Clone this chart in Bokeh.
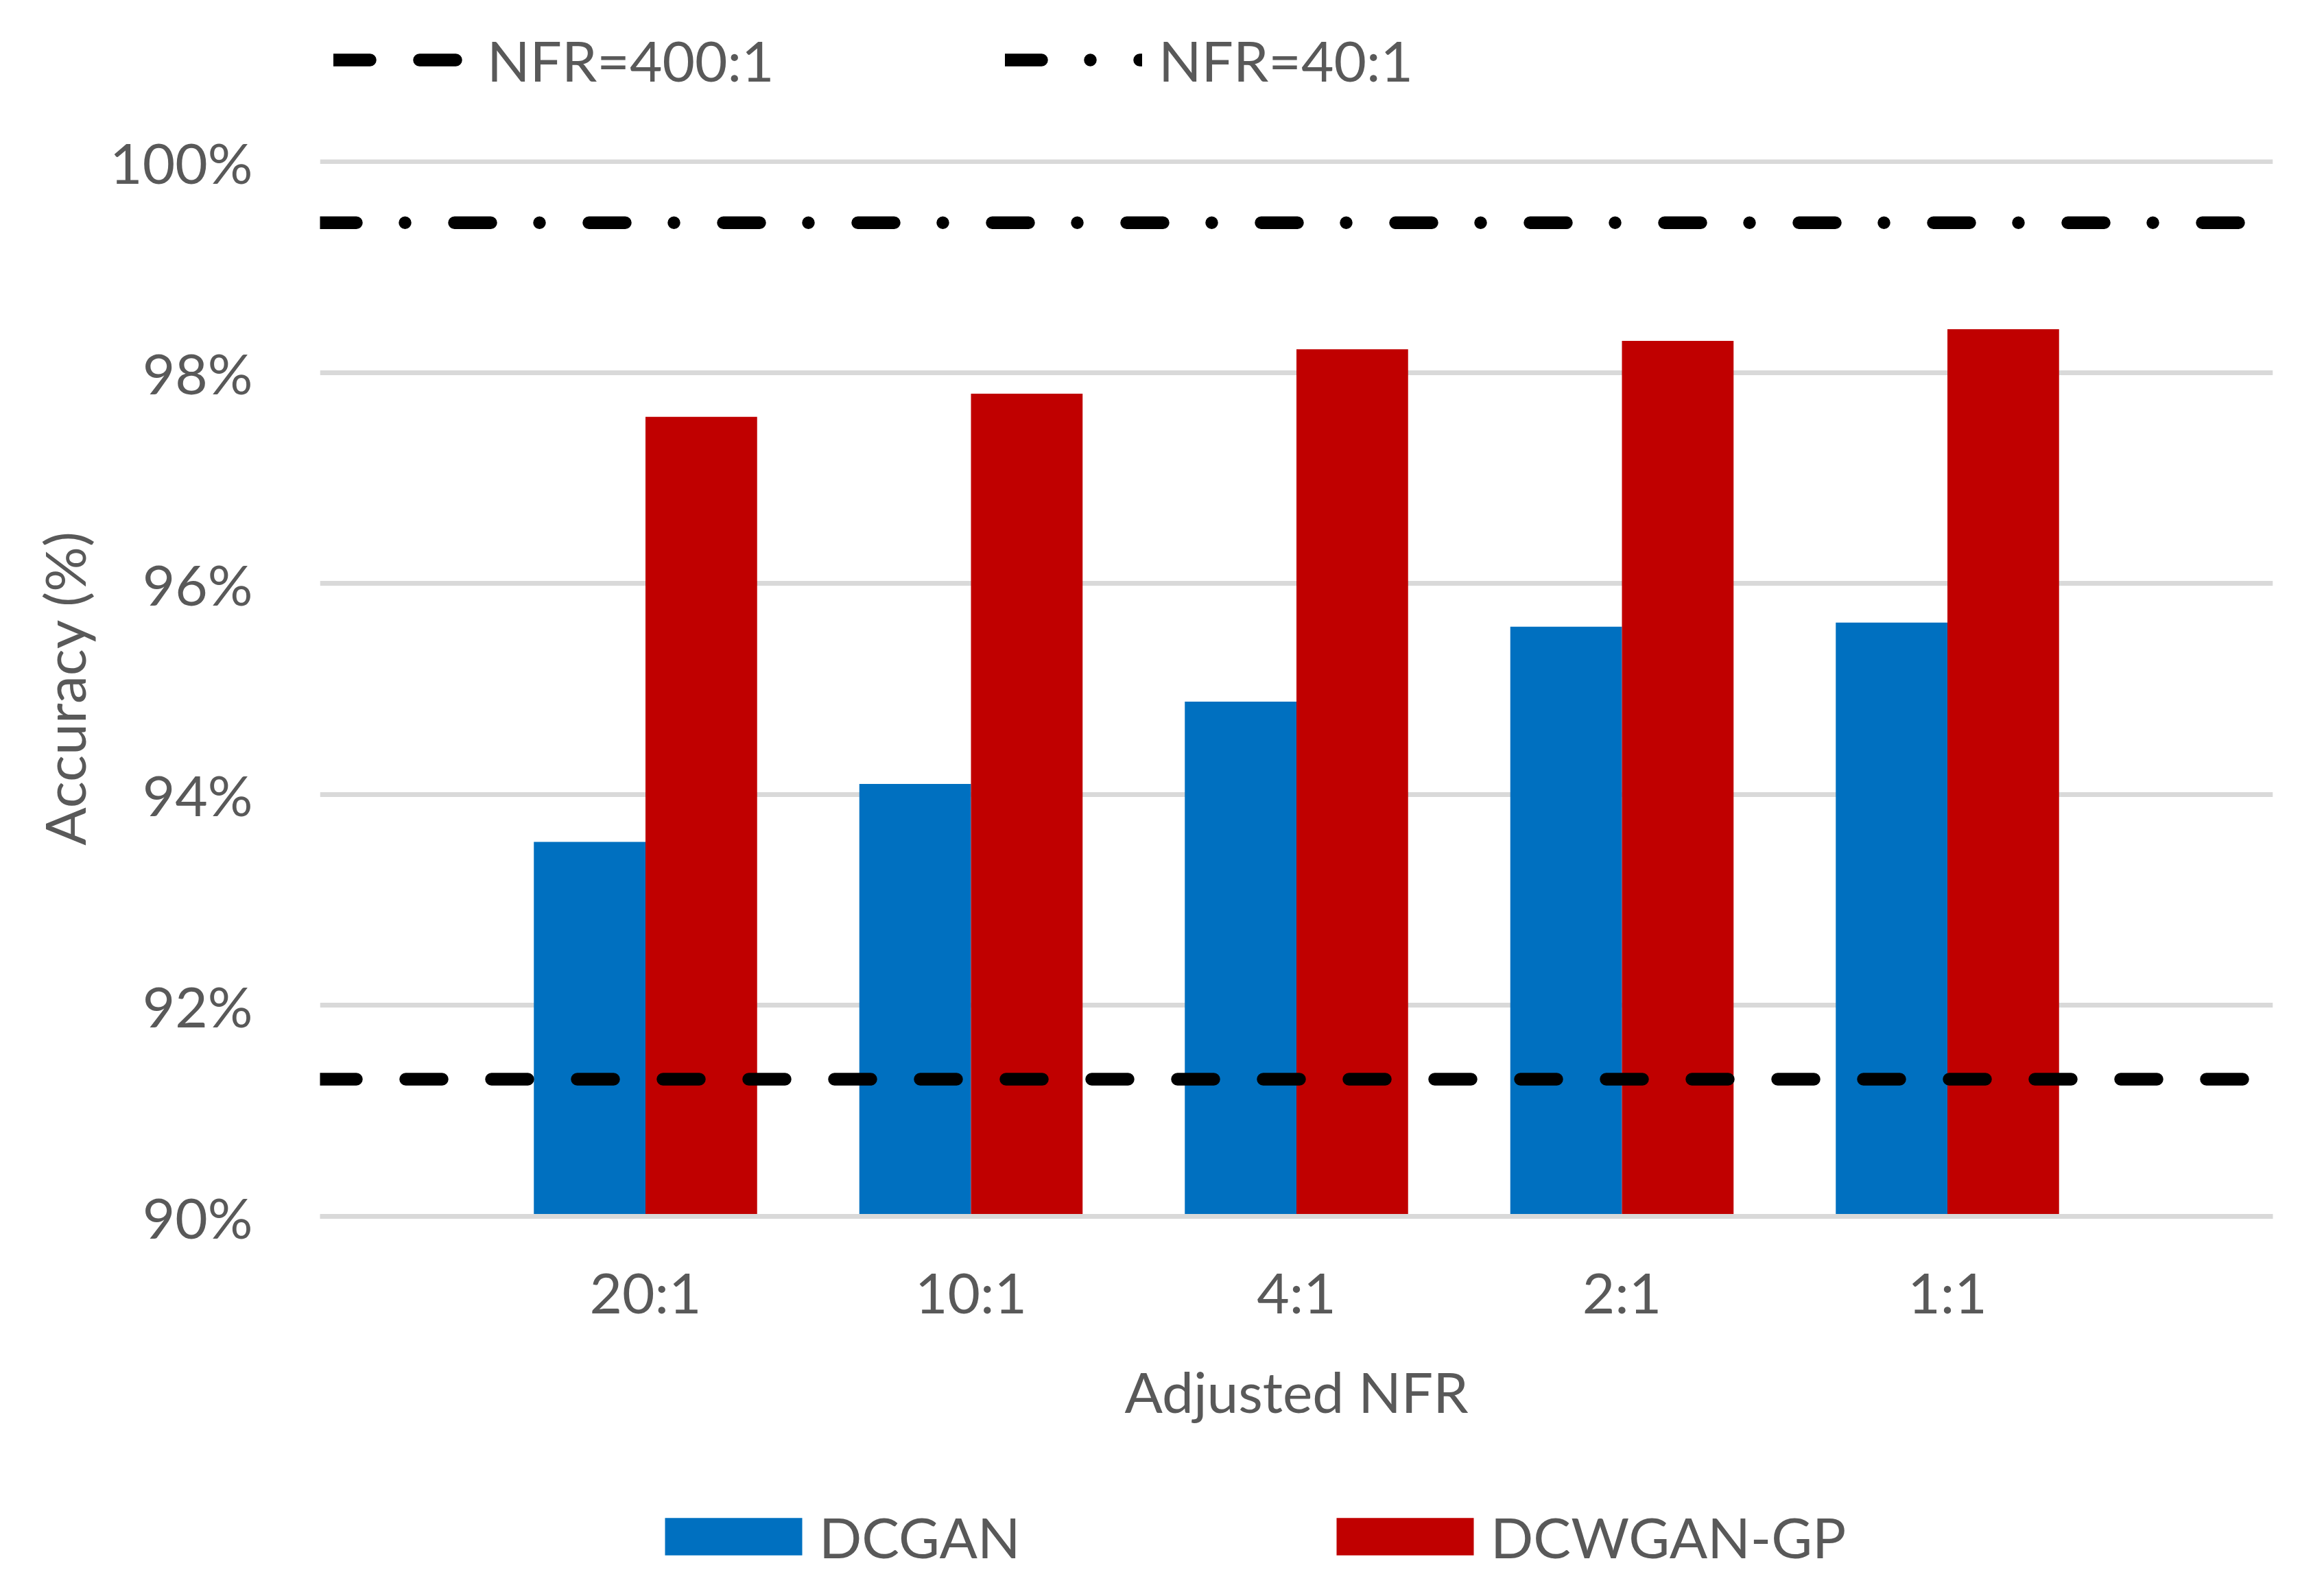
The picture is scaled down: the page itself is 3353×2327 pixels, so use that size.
from bokeh.plotting import figure
from bokeh.layouts import column
from bokeh.models import (ColumnDataSource, FactorRange, Range1d, Span, Legend,
                          LegendItem, FixedTicker, PrintfTickFormatter)
from bokeh.transform import dodge
from bokeh.embed import file_html
from bokeh.resources import INLINE

# values (accuracy in %)
ratios = ["20:1", "10:1", "4:1", "2:1", "1:1"]
dcgan = [93.55, 94.10, 94.88, 95.59, 95.63]
dcwgan_gp = [97.58, 97.80, 98.22, 98.30, 98.41]
nfr_400 = 91.30   # baseline at NFR=400:1
nfr_40 = 99.42    # baseline at NFR=40:1
y_ticks = [90, 92, 94, 96, 98, 100]

FONT = "Lato"
FS = "82px"
GREY = "#595959"
BLUE = "#0070C0"
RED = "#C00000"
W = 3337
LW = 18.5
dash400 = "53 72"
dash40 = "53 71 0 72"

src = ColumnDataSource(dict(ratio=ratios, dcgan=dcgan, dcwgan=dcwgan_gp,
                            nfr400=[nfr_400] * len(ratios), nfr40=[nfr_40] * len(ratios)))

p = figure(x_range=FactorRange(factors=ratios, range_padding=0.5, range_padding_units="absolute"),
           y_range=Range1d(90, 100.02),
           frame_width=2847, frame_height=1541,
           min_border_left=466, min_border_right=24, min_border_top=62, min_border_bottom=367,
           output_backend="svg", toolbar_location=None, outline_line_color=None)

bw = 0.343
p.vbar(x=dodge("ratio", -bw / 2, range=p.x_range), top="dcgan", bottom=90, width=bw,
       source=src, fill_color=BLUE, line_color=None)
p.vbar(x=dodge("ratio", bw / 2, range=p.x_range), top="dcwgan", bottom=90, width=bw,
       source=src, fill_color=RED, line_color=None)

# the two baselines run across the whole plot area
p.add_layout(Span(location=nfr_400, dimension="width", line_color="black", line_width=LW,
                  line_dash=dash400, line_cap="round"))
p.add_layout(Span(location=nfr_40, dimension="width", line_color="black", line_width=LW,
                  line_dash=dash40, line_cap="round"))

p.ygrid.ticker = FixedTicker(ticks=y_ticks)
p.ygrid.grid_line_color = "#D9D9D9"
p.ygrid.grid_line_width = 7
p.xgrid.grid_line_color = None

p.yaxis.ticker = FixedTicker(ticks=y_ticks)
p.yaxis.formatter = PrintfTickFormatter(format="%d%%")
p.yaxis.axis_label = "Accuracy (%)"
p.xaxis.axis_label = "Adjusted NFR"

for ax in (p.xaxis[0], p.yaxis[0]):
    ax.major_tick_line_color = None
    ax.minor_tick_line_color = None
    ax.major_tick_out = 0
    ax.major_label_text_font = FONT
    ax.major_label_text_font_size = FS
    ax.major_label_text_color = GREY
    ax.axis_label_text_font = FONT
    ax.axis_label_text_font_size = FS
    ax.axis_label_text_color = GREY
    ax.axis_label_text_font_style = "normal"

p.yaxis.axis_line_color = None
p.yaxis.major_label_standoff = 98
p.yaxis.axis_label_standoff = 15
p.xaxis.axis_line_color = "#D9D9D9"
p.xaxis.axis_line_width = 7
p.xaxis.major_label_standoff = 60
p.xaxis.axis_label_standoff = 44


def legend_strip(height):
    # thin figure holding only a legend; its y range keeps the series out of view
    f = figure(width=W, height=height, x_range=FactorRange(factors=ratios), y_range=Range1d(0, 1),
               min_border=0, x_axis_location=None, y_axis_location=None,
               output_backend="svg", toolbar_location=None, outline_line_color=None)
    f.grid.visible = False
    return f


def add_item(f, label, rend, loc, gw, gh, standoff):
    f.add_layout(Legend(items=[LegendItem(label=label, renderers=[rend])], location=loc,
                        glyph_width=gw, glyph_height=gh, label_standoff=standoff,
                        padding=0, spacing=0, margin=0,
                        border_line_color=None, background_fill_alpha=0,
                        label_text_font=FONT, label_text_font_size=FS, label_text_color=GREY))


top = legend_strip(170)
t400 = top.line(x="ratio", y="nfr400", source=src, line_color="black", line_width=LW,
                line_dash=dash400, line_cap="round")
t40 = top.line(x="ratio", y="nfr40", source=src, line_color="black", line_width=LW,
               line_dash=dash40, line_cap="round")
add_item(top, "NFR=400:1", t400, (20, 34), 200, 54, 24)
add_item(top, "NFR=40:1", t40, (999, 34), 200, 54, 24)

# zero-size bars: only their legend swatches show (swatches are inset 10% of the box)
bot = legend_strip(171)
b1 = bot.vbar(x="ratio", top="dcgan", bottom="dcgan", width=0, source=src,
              fill_color=BLUE, line_color=None)
b2 = bot.vbar(x="ratio", top="dcwgan", bottom="dcwgan", width=0, source=src,
              fill_color=RED, line_color=None)
add_item(bot, "DCGAN", b1, (478, 22), 250, 68, 0)
add_item(bot, "DCWGAN-GP", b2, (1457, 22), 250, 68, 0)

page = column(top, p, bot, spacing=0)
open("out.html", "w").write(file_html(page, INLINE))
